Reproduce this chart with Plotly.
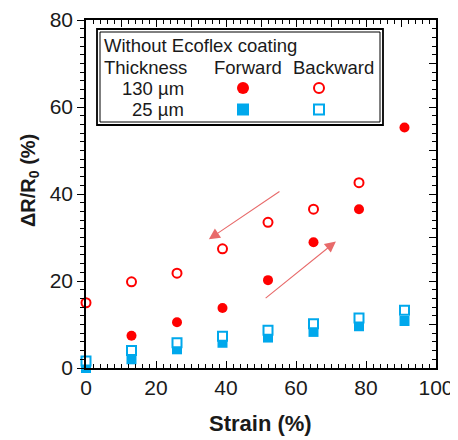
import plotly.graph_objects as go

# ---- data ----
strain = [0, 13, 26, 39, 52, 65, 78, 91]
r130_forward = [None, 7.4, 10.5, 13.8, 20.2, 28.9, 36.5, 55.3]
r130_backward = [15.0, 19.8, 21.8, 27.4, 33.5, 36.5, 42.6, None]
r25_forward = [0.0, 2.0, 4.3, 5.8, 7.0, 8.3, 9.6, 10.8]
r25_backward = [1.6, 4.0, 5.8, 7.3, 8.7, 10.2, 11.5, 13.3]

x_ticks = list(range(0, 101, 10))
x_ticktext = [str(v) if v % 20 == 0 else "" for v in x_ticks]
y_ticks = list(range(0, 81, 10))
y_ticktext = [str(v) if v % 20 == 0 else "" for v in y_ticks]

# arrows: (tail_x, tail_y, head_x, head_y) in data units
arrow_back = (55.7, 40.8, 35.1, 29.6)
arrow_fwd = (50.9, 15.8, 71.4, 29.1)

RED = "#FF0000"
BLUE = "#00A8EC"
FONT = "Arial, Liberation Sans, sans-serif"

# page has an 8px body margin -> figure is drawn at (8, 8)
OFF = 8
W, H = 450, 432
PL, PR, PT, PB = 86, 436, 20, 368        # plot-area edges in page pixels
ML, MT = PL - OFF, PT - OFF
MR, MB = W - (PR - OFF), H - (PB - OFF)
PW, PH = PR - PL, PB - PT


def px(xp):
    return (xp - PL) / PW


def py(yp):
    return (PB - yp) / PH


fig = go.Figure()
fig.add_trace(go.Scatter(x=strain, y=r130_forward, mode="markers", cliponaxis=False,
                         marker=dict(symbol="circle", size=10, color=RED, line=dict(width=0)),
                         showlegend=False))
fig.add_trace(go.Scatter(x=strain, y=r130_backward, mode="markers", cliponaxis=False,
                         marker=dict(symbol="circle", size=9, color="white", line=dict(width=2, color=RED)),
                         showlegend=False))
fig.add_trace(go.Scatter(x=strain, y=r25_forward, mode="markers", cliponaxis=False,
                         marker=dict(symbol="square", size=10, color=BLUE, line=dict(width=0)),
                         showlegend=False))
fig.add_trace(go.Scatter(x=strain, y=r25_backward, mode="markers", cliponaxis=False,
                         marker=dict(symbol="square", size=9, color="white", line=dict(width=2, color=BLUE)),
                         showlegend=False))
# dummy trace for the mirrored top/right axes
fig.add_trace(go.Scatter(x=[None], y=[None], xaxis="x2", yaxis="y2", showlegend=False))

axis_common = dict(showline=True, linecolor="black", linewidth=1.5, showgrid=False, zeroline=False,
                   tickcolor="black", tickwidth=1.2, ticklen=7, tickmode="array")
TICKFONT = dict(size=21, family=FONT, color="#1a1a1a")

fig.update_layout(
    width=W, height=H,
    margin=dict(l=ML, r=MR, t=MT, b=MB, autoexpand=False),
    paper_bgcolor="white", plot_bgcolor="white",
    font=dict(family=FONT, color="#1a1a1a"),
    xaxis=dict(range=[0, 100], ticks="inside", tickvals=x_ticks, ticktext=x_ticktext,
               tickfont=TICKFONT,
               minor=dict(tickmode="array", tickvals=list(range(0, 101, 2)), ticks="inside",
                          ticklen=4, tickwidth=1, tickcolor="black"),
               **axis_common),
    yaxis=dict(range=[0, 80], ticks="outside", tickvals=y_ticks, ticktext=y_ticktext,
               tickfont=TICKFONT,
               minor=dict(tickmode="array", tickvals=list(range(0, 81, 2)), ticks="outside",
                          ticklen=4, tickwidth=1, tickcolor="black"),
               **axis_common),
    xaxis2=dict(range=[0, 100], overlaying="x", side="top", anchor="y2", ticks="inside",
                tickvals=x_ticks, showticklabels=False,
                minor=dict(tickmode="array", tickvals=list(range(0, 101, 2)), ticks="inside",
                           ticklen=4, tickwidth=1, tickcolor="black"),
                **axis_common),
    yaxis2=dict(range=[0, 80], overlaying="y", side="right", anchor="x2", ticks="inside",
                tickvals=y_ticks, showticklabels=False,
                minor=dict(tickmode="array", tickvals=list(range(0, 81, 2)), ticks="inside",
                           ticklen=4, tickwidth=1, tickcolor="black"),
                **axis_common),
)

annotations = []
# axis titles
annotations.append(dict(text="<b>Strain (%)</b>", x=px(260), y=py(423), xref="paper", yref="paper",
                        showarrow=False, xanchor="center", yanchor="middle",
                        font=dict(size=22, family=FONT, color="#1a1a1a")))
annotations.append(dict(text="<b>ΔR/R<sub>0</sub> (%)</b>", x=px(29), y=py(181), xref="paper", yref="paper",
                        showarrow=False, xanchor="center", yanchor="middle", textangle=-90,
                        font=dict(size=20, family=FONT, color="#1a1a1a")))
# arrows
for (tx, ty, hx, hy) in (arrow_back, arrow_fwd):
    annotations.append(dict(x=hx, y=hy, ax=tx, ay=ty, xref="x", yref="y", axref="x", ayref="y",
                            text="", showarrow=True, arrowhead=2, arrowsize=2, arrowwidth=1.1,
                            arrowcolor="#E86A6A", standoff=0, startstandoff=0))
# legend texts
leg_font = dict(size=18.5, family=FONT, color="#1a1a1a")
for text, xp_, yp_, anchor in [
    ("Without Ecoflex coating", 102, 46, "left"),
    ("Thickness", 102, 67, "left"),
    ("Forward", 247.5, 67, "center"),
    ("Backward", 333, 67, "center"),
    ("130 µm", 186, 88, "right"),
    ("25 µm", 186, 109, "right"),
]:
    annotations.append(dict(text=text, x=px(xp_), y=py(yp_), xref="paper", yref="paper",
                            showarrow=False, xanchor=anchor, yanchor="middle", font=leg_font))
fig.update_layout(annotations=annotations)

shapes = []
# legend double border
shapes.append(dict(type="rect", xref="paper", yref="paper", x0=px(97), x1=px(383), y0=py(29), y1=py(125),
                   line=dict(color="black", width=1.8), fillcolor="white", layer="below"))
shapes.append(dict(type="rect", xref="paper", yref="paper", x0=px(100), x1=px(380), y0=py(32), y1=py(122),
                   line=dict(color="black", width=1), layer="above"))
# legend markers
r = 6
shapes.append(dict(type="circle", xref="paper", yref="paper", x0=px(243 - r), x1=px(243 + r),
                   y0=py(88 - r), y1=py(88 + r), fillcolor=RED, line=dict(width=0), layer="above"))
shapes.append(dict(type="circle", xref="paper", yref="paper", x0=px(319 - r + 1), x1=px(319 + r - 1),
                   y0=py(88 - r + 1), y1=py(88 + r - 1), fillcolor="white", line=dict(color=RED, width=2),
                   layer="above"))
shapes.append(dict(type="rect", xref="paper", yref="paper", x0=px(243 - r), x1=px(243 + r),
                   y0=py(109.5 - r), y1=py(109.5 + r), fillcolor=BLUE, line=dict(width=0), layer="above"))
shapes.append(dict(type="rect", xref="paper", yref="paper", x0=px(319 - r + 1), x1=px(319 + r - 1),
                   y0=py(109.5 - r + 1), y1=py(109.5 + r - 1), fillcolor="white",
                   line=dict(color=BLUE, width=2), layer="above"))
fig.update_layout(shapes=shapes)

fig.write_html("out.html")
